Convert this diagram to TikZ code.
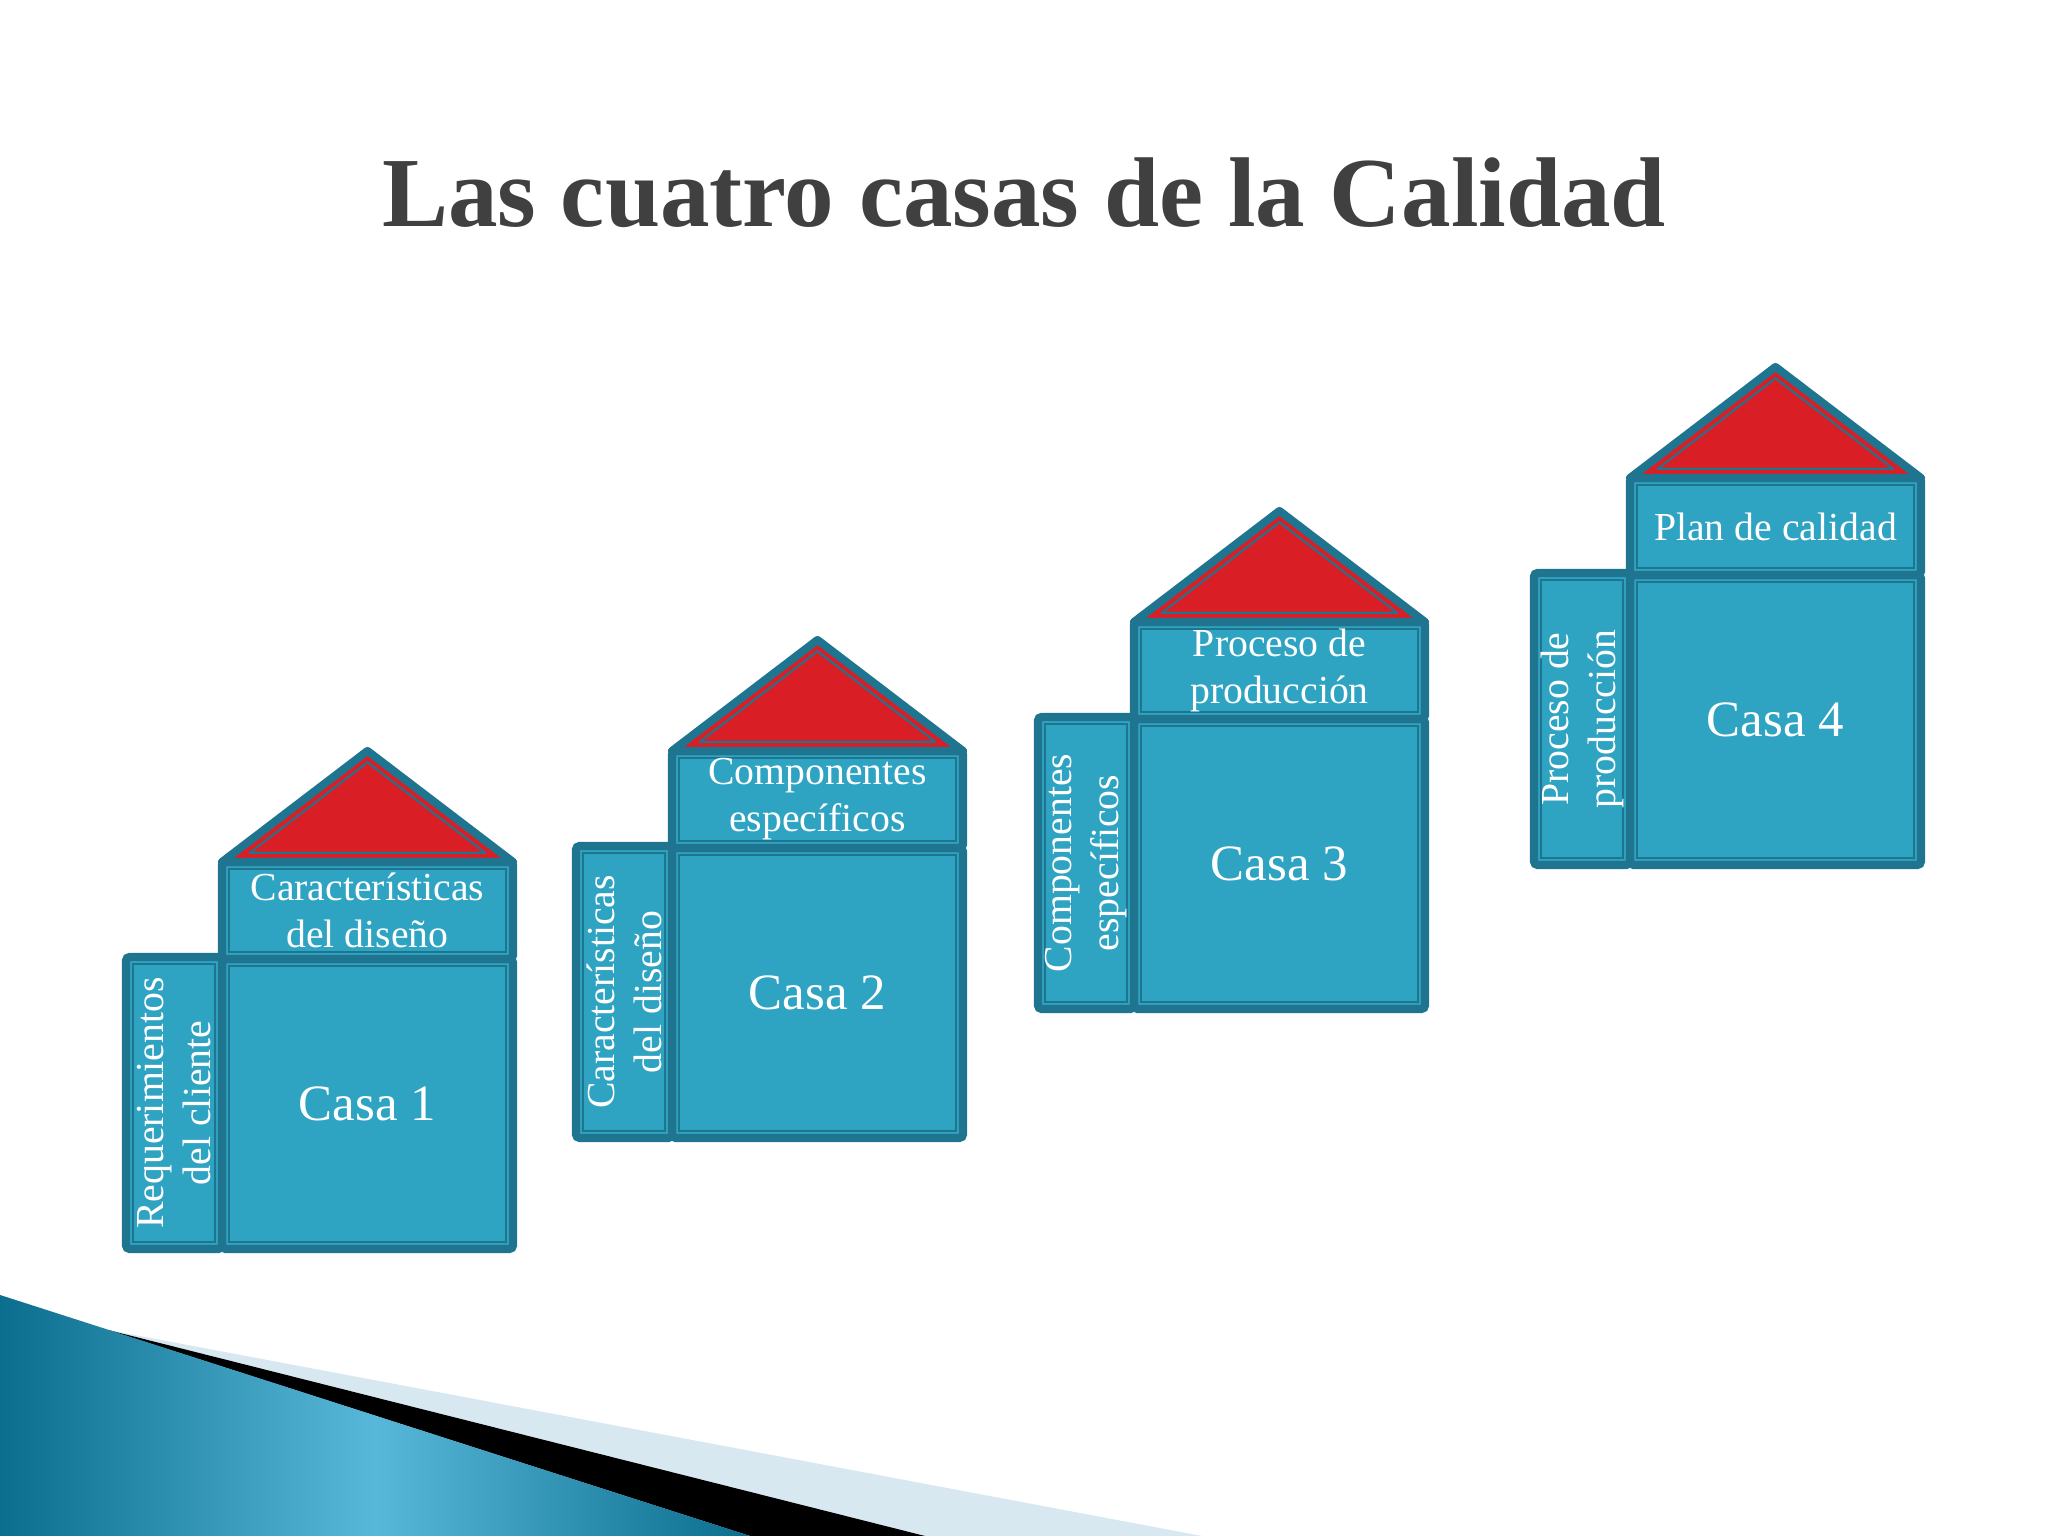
\documentclass[tikz,border=0pt]{standalone}
\usepackage{fontspec}
\setmainfont{Liberation Serif}
\usetikzlibrary{positioning}

\definecolor{casafondo}{HTML}{2EA3C2}
\definecolor{casaborde}{HTML}{1F7490}
\definecolor{techorojo}{HTML}{DA1E26}
\definecolor{titulogris}{HTML}{404040}
\definecolor{ondaoscura}{HTML}{0B6E8E}
\definecolor{ondaclara}{HTML}{58B8D9}
\definecolor{ondapalida}{HTML}{D8E8F1}

\tikzset{
  caja/.style={draw=casaborde, fill=casafondo, line width=2.3pt, rounded corners=1pt, outer sep=0pt,
    text=white, align=center, inner sep=0pt, font=\fontsize{11.3}{13.4}\selectfont,
    path picture={\draw[casaborde, line width=0.55pt, sharp corners]
      ([shift={(2.1pt,2.1pt)}]path picture bounding box.south west) rectangle
      ([shift={(-2.1pt,-2.1pt)}]path picture bounding box.north east);}},
  cuerpo/.style={caja, minimum width=2.91cm, minimum height=2.90cm, font=\fontsize{14.5}{17}\selectfont},
  cabeza/.style={caja, minimum width=2.91cm, minimum height=0.97cm},
  lado/.style={caja, minimum width=0.96cm, minimum height=2.92cm},
  vertical/.style={rotate=90, text=white, align=center, inner sep=0pt, font=\fontsize{11.3}{13.4}\selectfont},
  techo/.style={draw=casaborde, fill=techorojo, line width=2.3pt, line join=round},
  techofino/.style={draw=casaborde, line width=0.55pt, line join=round}
}

\begin{document}
\begin{tikzpicture}

\useasboundingbox[fill=white] (0,0) rectangle (20.48,15.36);

\fill[ondapalida] (1.08,2.06) -- (12.02,0) -- (9.25,0) -- cycle;
\fill[black] (1.08,2.06) -- (9.25,0) -- (7.50,0) -- cycle;
\shade[left color=ondaoscura, right color=ondaoscura, middle color=ondaclara] (0,2.41) -- (7.50,0) -- (0,0) -- cycle;

\node[font=\fontsize{28.2}{34}\selectfont\bfseries, text=titulogris, anchor=base] (titulo) at (10.24,13.09) {Las cuatro casas de la Calidad};

\node[cuerpo] (casa1) at (3.675,4.32) {Casa 1};
\node[cabeza, above=0pt of casa1] (cab1) {Características\\del diseño};
\node[lado, anchor=south east] (lado1) at (casa1.south west) {};
\node[vertical] (txt1) at (lado1) {Requerimientos\\del cliente};
\coordinate (punta1) at ([yshift=1.11cm]cab1.north);
\draw[techo] (cab1.north west) -- (cab1.north east) -- (punta1) -- cycle;
\draw[techofino] ([shift={(7.9pt,2.6pt)}]cab1.north west) -- ([shift={(-7.9pt,2.6pt)}]cab1.north east) -- ([yshift=-3.2pt]punta1) -- cycle;

\node[cuerpo] (casa2) at (8.175,5.43) {Casa 2};
\node[cabeza, above=0pt of casa2] (cab2) {Componentes\\específicos};
\node[lado, anchor=south east] (lado2) at (casa2.south west) {};
\node[vertical] (txt2) at (lado2) {Características\\del diseño};
\coordinate (punta2) at ([yshift=1.11cm]cab2.north);
\draw[techo] (cab2.north west) -- (cab2.north east) -- (punta2) -- cycle;
\draw[techofino] ([shift={(7.9pt,2.6pt)}]cab2.north west) -- ([shift={(-7.9pt,2.6pt)}]cab2.north east) -- ([yshift=-3.2pt]punta2) -- cycle;

\node[cuerpo] (casa3) at (12.795,6.72) {Casa 3};
\node[cabeza, above=0pt of casa3] (cab3) {Proceso de\\producción};
\node[lado, anchor=south east] (lado3) at (casa3.south west) {};
\node[vertical] (txt3) at (lado3) {Componentes\\específicos};
\coordinate (punta3) at ([yshift=1.11cm]cab3.north);
\draw[techo] (cab3.north west) -- (cab3.north east) -- (punta3) -- cycle;
\draw[techofino] ([shift={(7.9pt,2.6pt)}]cab3.north west) -- ([shift={(-7.9pt,2.6pt)}]cab3.north east) -- ([yshift=-3.2pt]punta3) -- cycle;

\node[cuerpo] (casa4) at (17.755,8.16) {Casa 4};
\node[cabeza, above=0pt of casa4] (cab4) {Plan de calidad};
\node[lado, anchor=south east] (lado4) at (casa4.south west) {};
\node[vertical] (txt4) at (lado4) {Proceso de\\producción};
\coordinate (punta4) at ([yshift=1.11cm]cab4.north);
\draw[techo] (cab4.north west) -- (cab4.north east) -- (punta4) -- cycle;
\draw[techofino] ([shift={(7.9pt,2.6pt)}]cab4.north west) -- ([shift={(-7.9pt,2.6pt)}]cab4.north east) -- ([yshift=-3.2pt]punta4) -- cycle;

\end{tikzpicture}
\end{document}
